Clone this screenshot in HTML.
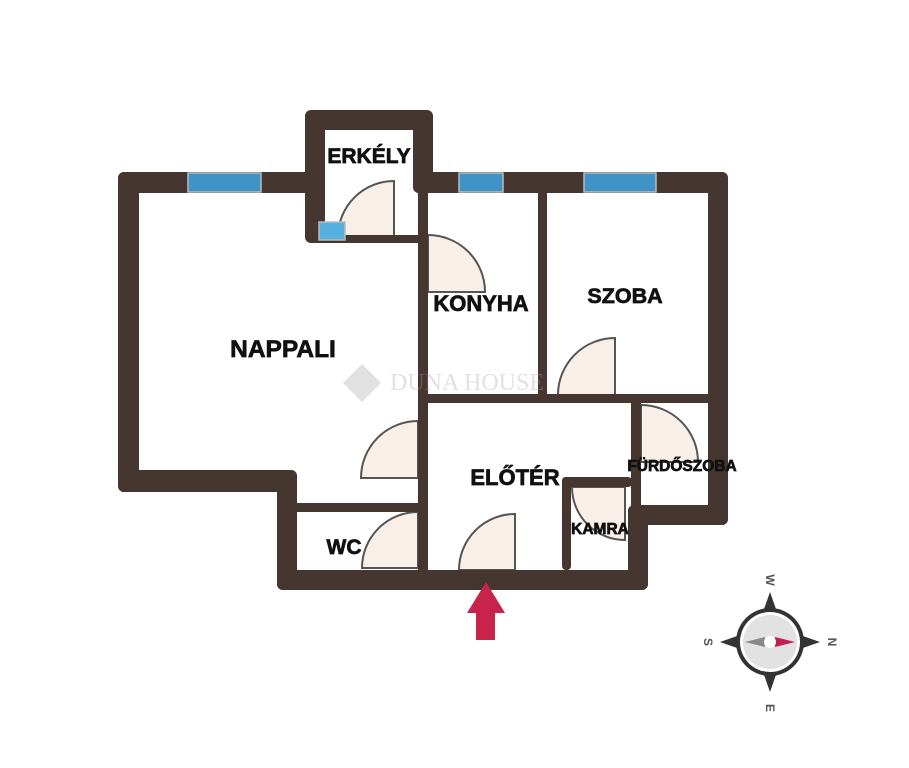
<!DOCTYPE html>
<html><head><meta charset="utf-8"><style>
html,body{margin:0;padding:0;background:#fff;}
svg{display:block}
text{font-family:"Liberation Sans",Arial,sans-serif;font-weight:bold;fill:#111;stroke:#111;stroke-width:0.7;}
</style></head><body>
<svg width="909" height="768" viewBox="0 0 909 768" xmlns="http://www.w3.org/2000/svg">
<rect width="909" height="768" fill="#fff"/>
<g fill="#f8f0e8" stroke="#555" stroke-width="2">
<path d="M394,237 L394,181 A56,56 0 0 0 338,237 Z"/>
<path d="M428,292 L428,235 A57,57 0 0 1 485,292 Z"/>
<path d="M615,395 L615,338 A57,57 0 0 0 558,395 Z"/>
<path d="M418,478 L418,421 A57,57 0 0 0 361,478 Z"/>
<path d="M641,405 A57,57 0 0 1 698,462 L641,462 Z"/>
<path d="M572,487 A53,53 0 0 0 625,540 L625,487 Z"/>
<path d="M418,568 L418,512 A56,56 0 0 0 362,568 Z"/>
<path d="M515,570 L515,514 A56,56 0 0 0 459,570 Z"/>
</g>
<g fill="#45362f">
<rect x="118" y="172" width="207" height="21" rx="6"/>
<rect x="118" y="172" width="21" height="320" rx="6"/>
<rect x="118" y="470" width="179" height="22" rx="6"/>
<rect x="277" y="470" width="20" height="120" rx="6"/>
<rect x="277" y="570" width="371" height="20" rx="6"/>
<rect x="628" y="505" width="20" height="85" rx="6"/>
<rect x="628" y="505" width="100" height="20" rx="6"/>
<rect x="708" y="172" width="20" height="353" rx="6"/>
<rect x="413" y="172" width="315" height="21" rx="6"/>
<rect x="305" y="110" width="128" height="20" rx="8"/>
<rect x="305" y="110" width="20" height="133" rx="6"/>
<rect x="413" y="110" width="20" height="83" rx="6"/>
<rect x="318" y="235" width="110" height="8"/>
<rect x="418" y="192" width="10" height="378"/>
<rect x="538" y="192" width="9" height="204"/>
<rect x="418" y="394" width="290" height="9"/>
<rect x="631" y="394" width="10" height="115"/>
<rect x="297" y="503" width="121" height="9"/>
<rect x="562" y="477" width="70" height="10" rx="4"/>
<rect x="562" y="477" width="9" height="93" rx="4"/>
</g>
<g fill="#3f93c6" stroke="#bbb" stroke-width="1.5">
<rect x="188" y="173" width="73" height="19"/>
<rect x="459" y="173" width="44" height="19"/>
<rect x="584" y="173" width="72" height="19"/>
<rect x="319" y="222" width="26" height="18" fill="#56b0e0"/>
</g>
<g opacity="0.35">
<path d="M343,383 L362,364 L381,383 L362,402 Z" fill="#aaa"/>
<text x="390" y="390" font-size="24" style="fill:#aaa;stroke:none;font-weight:normal;font-family:'Liberation Serif',serif">DUNA HOUSE</text>
</g>
<text x="369" y="163" font-size="21" text-anchor="middle">ERKÉLY</text>
<text x="283" y="357" font-size="24.5" text-anchor="middle">NAPPALI</text>
<text x="481" y="311" font-size="22" text-anchor="middle">KONYHA</text>
<text x="625" y="303" font-size="21.5" text-anchor="middle">SZOBA</text>
<text x="515" y="485" font-size="22" text-anchor="middle">ELŐTÉR</text>
<text x="682" y="471" font-size="15.5" text-anchor="middle">FÜRDŐSZOBA</text>
<text x="600" y="534" font-size="15.5" text-anchor="middle">KAMRA</text>
<text x="344" y="554" font-size="21" text-anchor="middle">WC</text>
<path d="M486,582 L505,613 L495,613 L495,640 L476,640 L476,613 L467,613 Z" fill="#c8234a"/>
<g transform="translate(770,642)">
<path d="M0,-50 L7,-30 L-7,-30 Z M0,50 L7,30 L-7,30 Z M-50,0 L-30,7 L-30,-7 Z M50,0 L30,7 L30,-7 Z" fill="#333"/>
<circle r="34" fill="#333"/>
<circle r="30" fill="#fff"/>
<circle r="27" fill="#e2e2e2"/>
<path d="M-25,0 L-5,-5 L-5,5 Z" fill="#888"/>
<path d="M25,0 L5,-5 L5,5 Z" fill="#c02050"/>
<circle r="6" fill="#fff"/>
<text x="0" y="-58" font-size="12" text-anchor="middle" transform="rotate(90 0 -62)" style="fill:#555;stroke:none">W</text>
<text x="0" y="70" font-size="12" text-anchor="middle" transform="rotate(90 0 66)" style="fill:#555;stroke:none">E</text>
<text x="-62" y="4" font-size="12" text-anchor="middle" transform="rotate(90 -62 0)" style="fill:#555;stroke:none">S</text>
<text x="62" y="4" font-size="12" text-anchor="middle" transform="rotate(90 62 0)" style="fill:#555;stroke:none">N</text>
</g>
</svg>
</body></html>
